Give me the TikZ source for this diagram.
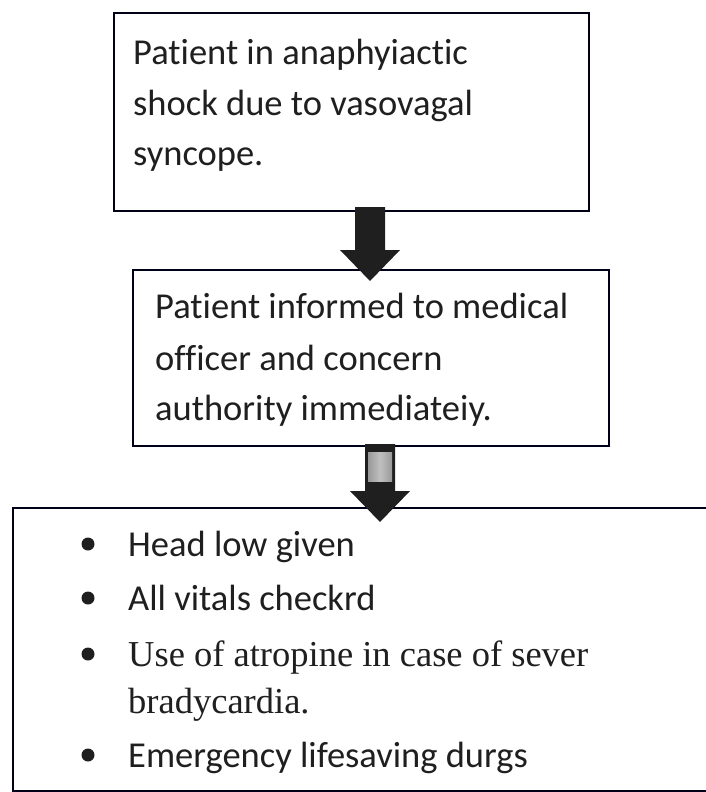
\documentclass[tikz,border=0pt]{standalone}
\usepackage{fontspec}
\usetikzlibrary{calc}
\setmainfont{Carlito}[Ligatures=NoCommon]
\newfontfamily\timesf{Liberation Serif}
\begin{document}
\begin{tikzpicture}[x=1pt,y=-1pt,
  box/.style={draw=black!90!blue, line width=1.8pt, rectangle, inner sep=0pt, anchor=north west},
  txt/.style={anchor=base west, inner sep=0pt, text=black!88, font=\fontsize{36.5}{44}\selectfont},
  ttxt/.style={anchor=base west, inner sep=0pt, text=black!88, font=\fontsize{36.5}{44}\selectfont\timesf},
  blockarrow/.style={fill=black!88, draw=none}]
\useasboundingbox (0,0) rectangle (706,792);
\clip (0,0) rectangle (706,792);
\fill[white] (0,0) rectangle (706,792);
% boxes
\node[box, minimum width=475pt, minimum height=198pt] (b1) at (113,12) {};
\node[box, minimum width=476pt, minimum height=176pt] (b2) at (132,269) {};
\node[box, minimum width=720pt, minimum height=283pt] (b3) at (12,507) {};
% box 1 text
\node[txt] (t11) at (133,65) {Patient in anaphyiactic};
\node[txt] (t12) at (133,115) {shock due to vasovagal};
\node[txt] (t13) at (133,165) {syncope.};
% box 2 text
\node[txt] (t21) at (155,318) {Patient informed to medical};
\node[txt] (t22) at (155,370) {officer and concern};
\node[txt] (t23) at (155,420) {authority immediateiy.};
% box 3 bullets
\node[txt] (t31) at (128,556) {Head low given};
\node[txt] (t32) at (128,610) {All vitals checkrd};
\node[ttxt] (t33) at (128,666) {Use of atropine in case of sever};
\node[ttxt] (t34) at (128,713) {bradycardia.};
\node[txt] (t35) at (128,767) {Emergency lifesaving durgs};
\foreach \n in {t31,t32,t33,t35}{
  \fill[black!88] ($(\n.base west)+(-40,-12)$) circle (6.5);
}
% arrow 1
\coordinate (a1s) at (370,207);
\fill[blockarrow] ($(a1s)+(-15,0)$) -- ($(a1s)+(15,0)$) -- ($(a1s)+(15,43)$) -- ($(a1s)+(30,43)$)
  -- ($(a1s)+(0,74)$) -- ($(a1s)+(-30,43)$) -- ($(a1s)+(-15,43)$) -- cycle;
% arrow 2
\coordinate (a2s) at (380,444);
\fill[blockarrow] ($(a2s)+(-15,0)$) -- ($(a2s)+(15,0)$) -- ($(a2s)+(15,47)$) -- ($(a2s)+(30,47)$)
  -- ($(a2s)+(0,78)$) -- ($(a2s)+(-30,47)$) -- ($(a2s)+(-15,47)$) -- cycle;
\shade[left color=gray!80, right color=gray!80, middle color=gray!50]
  ($(a2s)+(-12,8)$) rectangle ($(a2s)+(12,37)$);
\end{tikzpicture}
\end{document}
